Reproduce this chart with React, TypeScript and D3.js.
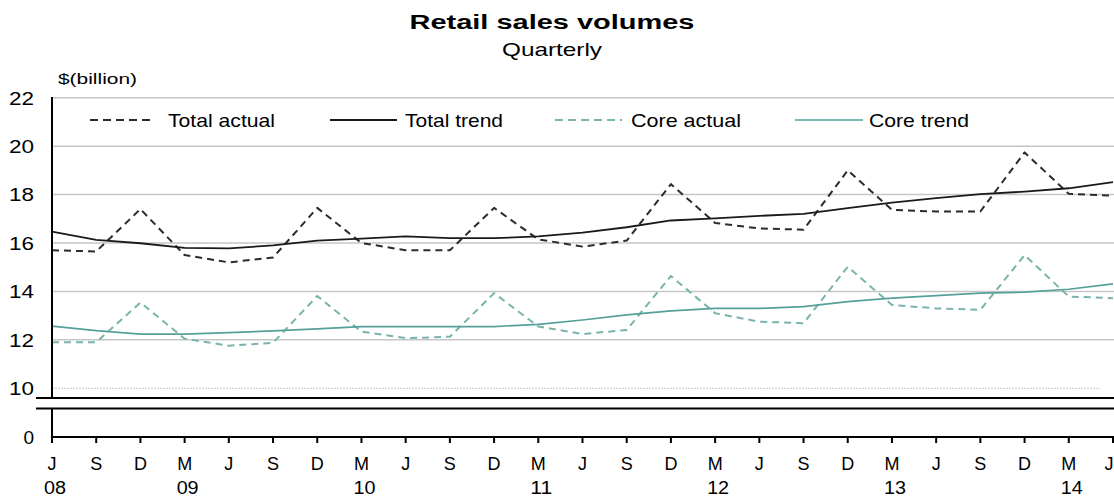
import React from "react";
import * as d3 from "d3";

const monthLabels = ["J","S","D","M","J","S","D","M","J","S","D","M","J","S","D","M","J","S","D","M","J","S","D","M","J"];
const yearLabels: { index: number; label: string }[] = [
  { index: 0, label: "08" },
  { index: 3, label: "09" },
  { index: 7, label: "10" },
  { index: 11, label: "11" },
  { index: 15, label: "12" },
  { index: 19, label: "13" },
  { index: 23, label: "14" },
];
const yTicks = [10, 12, 14, 16, 18, 20, 22];

const totalActual = [15.7,15.65,17.4,15.5,15.2,15.4,17.45,16.0,15.7,15.7,17.45,16.15,15.85,16.1,18.43,16.83,16.6,16.55,19.0,17.37,17.3,17.3,19.74,18.03,17.95];
const totalTrend = [16.47,16.13,15.99,15.8,15.78,15.9,16.1,16.18,16.27,16.2,16.2,16.27,16.43,16.65,16.93,17.02,17.12,17.2,17.44,17.67,17.85,18.02,18.12,18.26,18.51];
const coreActual = [11.9,11.9,13.54,12.05,11.76,11.88,13.81,12.34,12.07,12.13,13.93,12.55,12.24,12.41,14.64,13.1,12.75,12.69,15.02,13.44,13.3,13.24,15.5,13.79,13.72];
const coreTrend = [12.57,12.38,12.24,12.24,12.3,12.37,12.45,12.55,12.55,12.55,12.55,12.64,12.82,13.03,13.2,13.3,13.3,13.37,13.58,13.72,13.83,13.93,13.97,14.09,14.31];

const seriesNames = ["Total actual", "Total trend", "Core actual", "Core trend"];

const W = 1114;
const H = 497;
const FONT = "'Liberation Sans', Arial, sans-serif";

export default function App() {
  const x = d3.scaleLinear().domain([0, monthLabels.length - 1]).range([52, 1113]);
  const y = d3.scaleLinear().domain([10, 22]).range([388.3, 97.7]);
  const yLow = d3.scaleLinear().domain([0, 1]).range([437, 427]);

  const line = d3
    .line<number>()
    .x((_, i) => x(i))
    .y((v) => y(v));

  const series = [
    { name: seriesNames[0], data: totalActual, color: "#2b2b2b", dash: "7,5", width: 2, lx1: 90, lx2: 155, tx: 168, tl: 107 },
    { name: seriesNames[1], data: totalTrend, color: "#1a1a1a", dash: "", width: 1.8, lx1: 330, lx2: 397, tx: 405, tl: 98 },
    { name: seriesNames[2], data: coreActual, color: "#7ab3ae", dash: "7,5", width: 2, lx1: 555, lx2: 622, tx: 631, tl: 110 },
    { name: seriesNames[3], data: coreTrend, color: "#55a09a", dash: "", width: 1.7, lx1: 795, lx2: 863, tx: 869, tl: 100 },
  ];

  const axisLeft = 52;

  return (
    <svg width={W} height={H} style={{ position: "absolute", left: 0, top: 0, background: "#fff" }} fontFamily={FONT}>
      {/* Title */}
      <text x={552} y={29} textAnchor="middle" fontSize={20} fontWeight="bold" textLength={285} lengthAdjust="spacingAndGlyphs" fill="#000">
        Retail sales volumes
      </text>
      <text x={552} y={56} textAnchor="middle" fontSize={19} textLength={100} lengthAdjust="spacingAndGlyphs" fill="#000">
        Quarterly
      </text>
      <text x={58} y={84} fontSize={15} textLength={79} lengthAdjust="spacingAndGlyphs" fill="#000">
        $(billion)
      </text>

      {/* gridlines */}
      {yTicks.map((t) =>
        t === 10 ? (
          <line key={t} x1={axisLeft} x2={1100} y1={y(t)} y2={y(t)} stroke="#c8c8c8" strokeWidth={1} strokeDasharray="2,1" />
        ) : (
          <line key={t} x1={axisLeft} x2={W} y1={y(t)} y2={y(t)} stroke="#c6c6c6" strokeWidth={1.5} />
        )
      )}

      {/* y labels */}
      {yTicks.map((t) => (
        <text key={"yl" + t} x={34} y={y(t)} dy="0.36em" textAnchor="end" fontSize={19} textLength={25} lengthAdjust="spacingAndGlyphs" fill="#000">
          {t}
        </text>
      ))}
      <text x={34} y={yLow(0)} dy="0.36em" textAnchor="end" fontSize={19} fill="#000">0</text>

      {/* series lines */}
      {series.map((s) => (
        <path key={s.name} d={line(s.data) || ""} fill="none" stroke={s.color} strokeWidth={s.width} strokeDasharray={s.dash || undefined} strokeLinejoin="round" />
      ))}

      {/* legend */}
      {series.map((s) => (
        <g key={"lg" + s.name}>
          <line x1={s.lx1} x2={s.lx2} y1={120} y2={120} stroke={s.color} strokeWidth={s.width} strokeDasharray={s.dash ? "8,5" : undefined} />
          <text x={s.tx} y={120} dy="0.36em" fontSize={19} textLength={s.tl} lengthAdjust="spacingAndGlyphs" fill="#000">
            {s.name}
          </text>
        </g>
      ))}

      {/* axes and break */}
      <line x1={axisLeft} x2={axisLeft} y1={97} y2={398} stroke="#000" strokeWidth={2} />
      <line x1={36} x2={W} y1={398} y2={398} stroke="#000" strokeWidth={2} />
      <line x1={36} x2={W} y1={408.5} y2={408.5} stroke="#000" strokeWidth={2} />
      <line x1={axisLeft} x2={axisLeft} y1={408} y2={yLow(0)} stroke="#000" strokeWidth={2} />
      <line x1={axisLeft - 1} x2={W} y1={yLow(0)} y2={yLow(0)} stroke="#000" strokeWidth={2} />
      {monthLabels.map((m, i) => (
        <line key={"tk" + i} x1={x(i)} x2={x(i)} y1={yLow(0)} y2={yLow(0) + 6} stroke="#000" strokeWidth={2} />
      ))}

      {/* x labels */}
      {monthLabels.map((m, i) => (
        <text key={"ml" + i} x={i === monthLabels.length - 1 ? x(i) - 4 : x(i)} y={470} textAnchor="middle" fontSize={18} fill="#000">
          {m}
        </text>
      ))}
      {yearLabels.map((yl) => (
        <text key={"yr" + yl.label} x={x(yl.index) + 3} y={494} textAnchor="middle" fontSize={18} textLength={22} lengthAdjust="spacingAndGlyphs" fill="#000">
          {yl.label}
        </text>
      ))}
    </svg>
  );
}
